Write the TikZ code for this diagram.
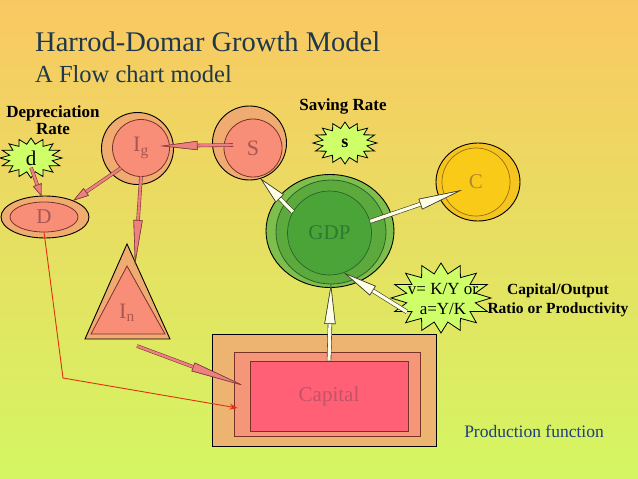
\documentclass[tikz,border=0pt]{standalone}
\usepackage{fontspec}
\setmainfont{Liberation Serif}
\usepackage{tikz}
\usetikzlibrary{arrows.meta,positioning,calc,shapes.geometric}

\definecolor{bgtop}{RGB}{250,200,98}
\definecolor{bgmid}{RGB}{232,224,96}
\definecolor{bgbot}{RGB}{212,246,98}
\definecolor{ringtan}{RGB}{240,172,112}
\definecolor{salmonin}{RGB}{248,142,120}
\definecolor{inneredge}{RGB}{120,50,40}
\definecolor{redtext}{RGB}{168,86,82}
\definecolor{capouter}{RGB}{236,180,112}
\definecolor{capmid}{RGB}{245,150,120}
\definecolor{capinner}{RGB}{255,96,118}
\definecolor{captext}{RGB}{196,82,104}
\definecolor{gdpouter}{RGB}{126,190,76}
\definecolor{gdpmid}{RGB}{92,170,62}
\definecolor{gdpinner}{RGB}{74,164,56}
\definecolor{gdpedge}{RGB}{40,100,40}
\definecolor{gdptext}{RGB}{46,122,48}
\definecolor{goldout}{RGB}{245,196,30}
\definecolor{goldin}{RGB}{250,202,24}
\definecolor{goldedge}{RGB}{150,110,20}
\definecolor{goldtext}{RGB}{180,136,44}
\definecolor{starfill}{RGB}{206,255,104}
\definecolor{pinkfill}{RGB}{238,128,128}
\definecolor{pinkedge}{RGB}{130,60,60}
\definecolor{cream}{RGB}{255,255,232}
\definecolor{creamedge}{RGB}{60,60,40}
\definecolor{titleblue}{RGB}{30,56,74}
\definecolor{pfblue}{RGB}{30,62,128}
\definecolor{redline}{RGB}{226,48,16}

% spiky star round a coordinate: centre, x radius, y radius
\newcommand{\spikystar}[3]{%
  \filldraw[fill=starfill, draw=black, line width=0.8pt]
    ($(#1)+(90:#2 and #3)$)
    \foreach \k [evaluate=\k as \rf using 0.85+0.15*cos(\k*180)] in {1,...,31}
      { -- ($(#1)+({90+\k*11.25}:{\rf*#2} and {\rf*#3})$) } -- cycle;}

\begin{document}
\begin{tikzpicture}[x=1pt, y=-1pt,
  ringout/.style={circle, draw=black, line width=0.9pt, fill=ringtan,
    inner sep=0pt, outer sep=0pt},
  ringin/.style={circle, draw=inneredge, line width=0.8pt, fill=salmonin,
    text=redtext, font=\fontsize{22}{22}\selectfont, inner sep=0pt, outer sep=0pt},
  boldlabel/.style={font=\bfseries\fontsize{17}{17}\selectfont, inner sep=0pt},
  startext/.style={font=\fontsize{17}{20}\selectfont, inner sep=1pt},
  pinkarr/.style={draw=pinkfill, line width=2.4pt,
    preaction={draw=pinkedge, line width=3.6pt},
    -{Triangle[length=#1, width=9pt, line width=0.6pt, color=pinkedge, fill=pinkfill]}},
  whitearr/.style={draw=cream, line width=3.2pt,
    preaction={draw=creamedge, line width=4.4pt},
    -{Triangle[length=#1, width=11pt, line width=0.6pt, color=creamedge, fill=cream]}}]

\useasboundingbox (0,0) rectangle (638,479);
\shade[top color=bgtop, middle color=bgmid, bottom color=bgbot] (0,0) rectangle (638,479);

% titles and labels
\node[anchor=base west, text=titleblue, font=\fontsize{28.5}{30}\selectfont, inner sep=0pt]
  (title) at (35,52) {Harrod-Domar Growth Model};
\node[anchor=base west, text=titleblue, font=\fontsize{24.5}{26}\selectfont, inner sep=0pt]
  (subtitle) at (35,82) {A Flow chart model};
\node[boldlabel, align=center] (deprate) at (53,120) {Depreciation\\Rate};
\node[boldlabel] (savrate) at (343,106) {Saving Rate};
\node[boldlabel, font=\bfseries\fontsize{15.5}{19}\selectfont, align=center]
  (ratiolabel) at (558,300) {Capital/Output\\Ratio or Productivity};
\node[text=pfblue, font=\fontsize{17.5}{20}\selectfont] (prodfn) at (534,431) {Production function};

% capital
\node[rectangle, draw=black, line width=0.9pt, fill=capouter,
  minimum width=224pt, minimum height=112pt] (Capout) at (324,390) {};
\node[rectangle, draw=inneredge, line width=0.8pt, fill=capmid,
  minimum width=186pt, minimum height=84pt] (Capmid) at (327,394) {};
\node[rectangle, draw=inneredge, line width=0.8pt, fill=capinner, text=captext,
  font=\fontsize{21}{21}\selectfont, minimum width=158pt, minimum height=70pt] (Cap) at (329,396) {Capital};

% net investment
\filldraw[fill=ringtan, draw=black, line width=0.9pt] (127,244) -- (170,339) -- (85,339) -- cycle;
\filldraw[fill=salmonin, draw=inneredge, line width=0.8pt] (127,266) -- (165,334) -- (91,334) -- cycle;
\node[text=redtext, font=\fontsize{22}{22}\selectfont, inner sep=0pt] (In) at (127,313) {I\textsubscript{n}};
\coordinate (Intip) at (135,265);
\coordinate (Inbase) at (137,346);

% depreciation, gross investment, saving
\node[ellipse, draw=black, line width=0.9pt, fill=ringtan, inner sep=0pt, outer sep=0pt,
  minimum width=88pt, minimum height=42pt] (Dout) at (45,217) {};
\node[ellipse, draw=inneredge, line width=0.8pt, fill=salmonin, text=redtext,
  font=\fontsize{21}{21}\selectfont, inner sep=0pt, outer sep=0pt,
  minimum width=68pt, minimum height=30pt] (D) at (44,217) {D};
\node[ringout, minimum size=72pt] (Igout) at (137.5,148.5) {};
\node[ringin, minimum size=57pt] (Ig) at (141,148) {I\textsubscript{g}};
\node[ringout, minimum size=74pt] (Sout) at (249.5,143) {};
\node[ringin, minimum size=58pt] (S) at (253,148) {S};

% rates
\coordinate (dc) at (31,158);
\spikystar{dc}{31}{20}
\node[font=\fontsize{21}{21}\selectfont, inner sep=2pt] (d) at (dc) {d};
\coordinate (sc) at (345,143);
\spikystar{sc}{32}{21}
\node[font=\bfseries\fontsize{18}{18}\selectfont, inner sep=2pt] (s) at (sc) {s};
\coordinate (vc) at (441,298);
\spikystar{vc}{50}{35}
\node[startext, align=center] (v) at (443,299) {v= K/Y or\\a=Y/K};

% consumption
\node[ellipse, draw=black, line width=0.9pt, fill=goldout, inner sep=0pt, outer sep=0pt,
  minimum width=84pt, minimum height=78pt] (Cout) at (478,182) {};
\node[circle, draw=goldedge, line width=0.7pt, fill=goldin, text=goldtext,
  font=\fontsize{21}{21}\selectfont, inner sep=0pt, minimum size=68pt] (C) at (476,182) {C};

% GDP
\node[ellipse, draw=black, line width=0.9pt, fill=gdpouter, inner sep=0pt, outer sep=0pt,
  minimum width=128pt, minimum height=113pt] (GDPout) at (330,231) {};
\node[ellipse, draw=gdpedge, line width=0.8pt, fill=gdpmid, inner sep=0pt, outer sep=0pt,
  minimum width=110pt, minimum height=104pt] (GDPmid) at (331,232) {};
\node[circle, draw=gdpedge, line width=0.7pt, fill=gdpinner, text=gdptext,
  font=\fontsize{21}{21}\selectfont, inner sep=0pt, minimum size=84pt] (GDP) at (329.5,233) {GDP};

% flows
\draw[redline, line width=0.9pt, -{Stealth[length=8pt, width=6pt]}]
  (D.south) -- coordinate[pos=1] (bend) (63,378) -- ([shift={(4,14)}]Capmid.west);
\draw[pinkarr=12pt] (d.south) -- (Dout.100);
\draw[pinkarr=16pt] (Ig.225) -- (Dout.30);
\draw[pinkarr=37pt] ([shift={(9,-3)}]S.west) -- ([shift={(-9,-2)}]Ig.east);
\draw[pinkarr=45pt] (Ig.south) -- (Intip);
\draw[pinkarr=55pt] (Inbase) -- ([shift={(11,-8)}]Capmid.west);
\draw[whitearr=28pt] (GDP.150) -- (Sout.-73);
\draw[whitearr=44pt] (GDP.16) -- ([shift={(-14,8)}]C.center);
\draw[whitearr=34pt] ([shift={(0,-4)}]v.south west) -- (GDP.-70);
\draw[whitearr=40pt] (Cap.north) -- (GDPmid.south);
\end{tikzpicture}
\end{document}
